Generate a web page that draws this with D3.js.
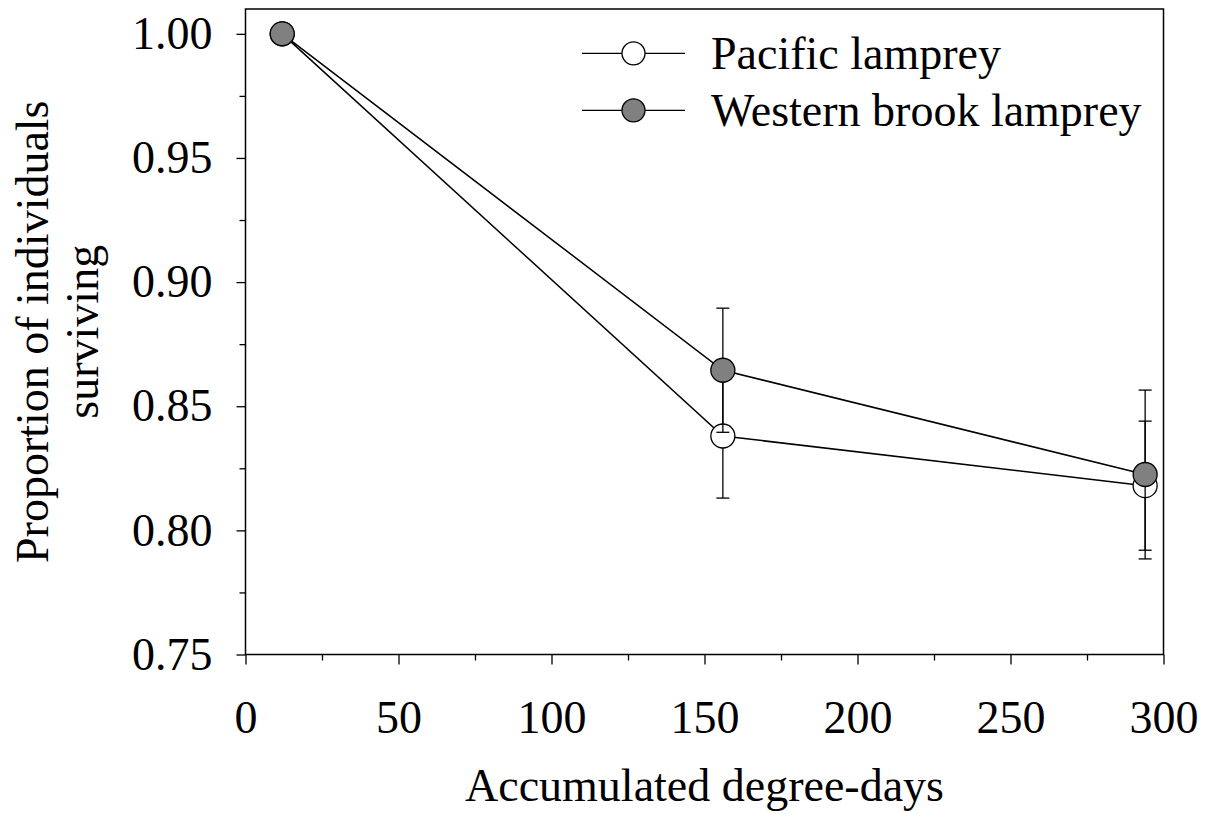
<!DOCTYPE html>
<html>
<head>
<meta charset="utf-8">
<script src="https://cdn.jsdelivr.net/npm/d3@7"></script>
<style>
  body { margin: 0; background: #fff; }
  svg text { font-family: "Liberation Serif", "Times New Roman", serif; fill: #000; }
</style>
</head>
<body>
<svg width="1207" height="814"></svg>
<script>
// Data
const degreeDays = [12, 156, 294];
const pacific = [1.0, 0.838, 0.818];
const pacificErr = [0, 0.025, 0.026];
const western = [1.0, 0.8645, 0.8225];
const westernErr = [0, 0.025, 0.034];
const seriesNames = ["Pacific lamprey", "Western brook lamprey"];
const xTicks = [0, 50, 100, 150, 200, 250, 300];
const yTicks = [0.75, 0.80, 0.85, 0.90, 0.95, 1.00];

const plotLeft = 245.5, plotRight = 1163.5, plotTop = 9, plotBottom = 654.5;
const fontSize = 46;

const svg = d3.select("svg");

const x = d3.scaleLinear().domain([0, 300]).range([plotLeft, plotRight]);
const y = d3.scaleLinear().domain([0.75, 1.01]).range([plotBottom, plotTop]);

// Minor ticks
svg.append("g")
    .attr("transform", `translate(0, ${plotBottom})`)
    .call(d3.axisBottom(x).tickValues(d3.range(25, 300, 50)).tickSize(6).tickSizeOuter(0).tickFormat(""))
    .call(g => g.select(".domain").remove())
    .selectAll("line").attr("stroke-width", 1.3);

svg.append("g")
    .attr("transform", `translate(${plotLeft}, 0)`)
    .call(d3.axisLeft(y).tickValues(d3.range(0.775, 1.0, 0.05)).tickSize(6).tickSizeOuter(0).tickFormat(""))
    .call(g => g.select(".domain").remove())
    .selectAll("line").attr("stroke-width", 1.3);

// Major ticks + labels
const xAxis = svg.append("g")
    .attr("transform", `translate(0, ${plotBottom})`)
    .call(d3.axisBottom(x).tickValues(xTicks).tickSize(10).tickPadding(36).tickFormat(d3.format("d")));
xAxis.select(".domain").remove();
xAxis.selectAll("line").attr("stroke-width", 1.3);
xAxis.selectAll("text").style("font-size", fontSize + "px");

const yAxis = svg.append("g")
    .attr("transform", `translate(${plotLeft}, 0)`)
    .call(d3.axisLeft(y).tickValues(yTicks).tickSize(9).tickPadding(24).tickFormat(d3.format(".2f")));
yAxis.select(".domain").remove();
yAxis.selectAll("line").attr("stroke-width", 1.3);
yAxis.selectAll("text").style("font-size", fontSize + "px");

// Frame
svg.append("rect")
    .attr("x", plotLeft).attr("y", plotTop)
    .attr("width", plotRight - plotLeft).attr("height", plotBottom - plotTop)
    .attr("fill", "none").attr("stroke", "#000").attr("stroke-width", 1.5);

// Axis titles
svg.append("text")
    .attr("x", (plotLeft + plotRight) / 2).attr("y", 801)
    .attr("text-anchor", "middle")
    .style("font-size", fontSize + "px")
    .text("Accumulated degree-days");

const yTitle = svg.append("text")
    .attr("transform", `translate(48, ${(plotTop + plotBottom) / 2}) rotate(-90)`)
    .attr("text-anchor", "middle")
    .style("font-size", fontSize + "px");
yTitle.append("tspan").attr("x", 0).attr("y", 0).text("Proportion of individuals");
yTitle.append("tspan").attr("x", 0).attr("y", 50).text("surviving");

// Series
const series = [
    { name: seriesNames[0], values: pacific, err: pacificErr, fill: "#fff" },
    { name: seriesNames[1], values: western, err: westernErr, fill: "#808080" }
];

const line = d3.line()
    .x(d => x(d.x))
    .y(d => y(d.y));

series.forEach(s => {
    const pts = degreeDays.map((d, i) => ({ x: d, y: s.values[i], e: s.err[i] }));
    const g = svg.append("g");

    g.append("path")
        .datum(pts)
        .attr("d", line)
        .attr("fill", "none")
        .attr("stroke", "#000")
        .attr("stroke-width", 1.5);

    const eb = g.selectAll(".err")
        .data(pts.filter(p => p.e > 0))
        .enter().append("g");
    eb.append("line")
        .attr("x1", d => x(d.x)).attr("x2", d => x(d.x))
        .attr("y1", d => y(d.y + d.e)).attr("y2", d => y(d.y - d.e))
        .attr("stroke", "#000").attr("stroke-width", 1.3);
    [1, -1].forEach(sign => {
        eb.append("line")
            .attr("x1", d => x(d.x) - 6.5).attr("x2", d => x(d.x) + 6.5)
            .attr("y1", d => y(d.y + sign * d.e)).attr("y2", d => y(d.y + sign * d.e))
            .attr("stroke", "#000").attr("stroke-width", 1.3);
    });

    g.selectAll("circle")
        .data(pts)
        .enter().append("circle")
        .attr("cx", d => x(d.x))
        .attr("cy", d => y(d.y))
        .attr("r", 12)
        .attr("fill", s.fill)
        .attr("stroke", "#000")
        .attr("stroke-width", 1.3);
});

// Legend
const legend = svg.append("g");
series.forEach((s, i) => {
    const ly = 53.3 + i * 57;
    legend.append("line")
        .attr("x1", 582).attr("x2", 685)
        .attr("y1", ly).attr("y2", ly)
        .attr("stroke", "#000").attr("stroke-width", 1.3);
    legend.append("circle")
        .attr("cx", 633.5).attr("cy", ly).attr("r", 11.5)
        .attr("fill", s.fill).attr("stroke", "#000").attr("stroke-width", 1.3);
    legend.append("text")
        .attr("x", 711).attr("y", ly)
        .attr("dy", "0.35em")
        .style("font-size", fontSize + "px")
        .text(s.name);
});
</script>
</body>
</html>
